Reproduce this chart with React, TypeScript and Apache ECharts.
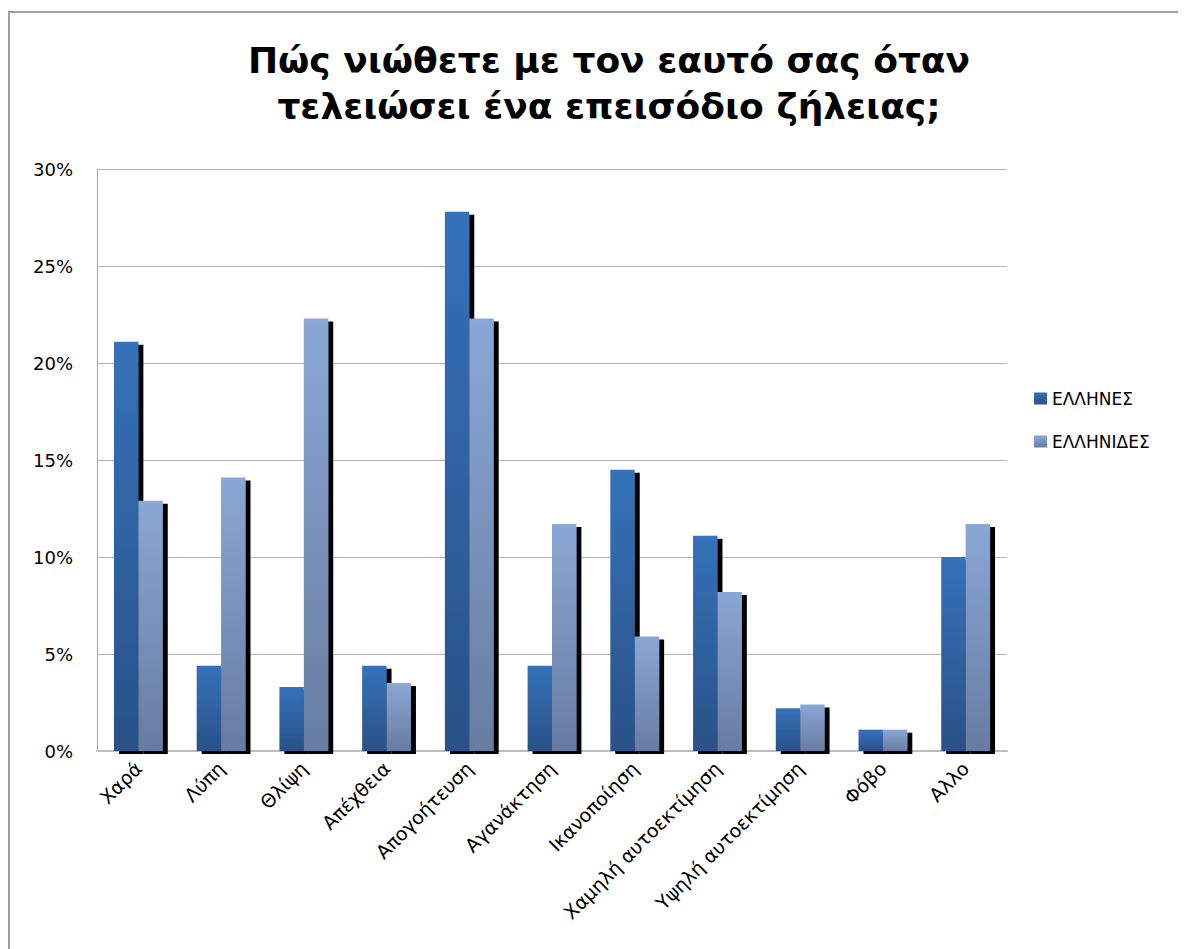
import React, { useEffect, useRef } from "react";
import * as echarts from "echarts";

const titleText = "Πώς νιώθετε με τον εαυτό σας όταν\nτελειώσει ένα επεισόδιο ζήλειας;";
const categories = [
  "Χαρά",
  "Λύπη",
  "Θλίψη",
  "Απέχθεια",
  "Απογοήτευση",
  "Αγανάκτηση",
  "Ικανοποίηση",
  "Χαμηλή αυτοεκτίμηση",
  "Υψηλή αυτοεκτίμηση",
  "Φόβο",
  "Αλλο",
];
const menName = "ΕΛΛΗΝΕΣ";
const womenName = "ΕΛΛΗΝΙΔΕΣ";
const menValues = [21.1, 4.4, 3.3, 4.4, 27.8, 4.4, 14.5, 11.1, 2.2, 1.1, 10.0];
const womenValues = [12.9, 14.1, 22.3, 3.5, 22.3, 11.7, 5.9, 8.2, 2.4, 1.1, 11.7];
const yTicks = { min: 0, max: 30, interval: 5 };

export default function App() {
  const ref = useRef<HTMLDivElement>(null);
  useEffect(() => {
    if (!ref.current) return;
    const chart = echarts.init(ref.current, undefined, { renderer: "svg" });
    const grad = (top: string, bottom: string) =>
      new echarts.graphic.LinearGradient(0, 0, 0, 1, [
        { offset: 0, color: top },
        { offset: 1, color: bottom },
      ]);
    const darkGrad = grad("#3572b9", "#2a5188");
    const lightGrad = grad("#8aa7d5", "#687ca2");
    chart.setOption({
      animation: false,
      backgroundColor: "#ffffff",
      graphic: [
        {
          type: "rect",
          shape: { x: 1, y: 4, width: 1400, height: 1200 },
          style: { fill: "none", stroke: "#a0a0a0", lineWidth: 2 },
          silent: true,
        },
      ],
      title: {
        text: titleText,
        left: 596,
        top: 24,
        textAlign: "center",
        textStyle: {
          fontFamily: "DejaVu Sans",
          fontWeight: "bold",
          fontSize: 36,
          lineHeight: 46,
          color: "#000000",
        },
      },
      legend: {
        orient: "vertical",
        left: 1021,
        top: 377,
        itemWidth: 13,
        itemHeight: 12,
        itemGap: 26,
        icon: "rect",
        textStyle: {
          fontFamily: "DejaVu Sans",
          fontSize: 17,
          color: "#000000",
        },
        data: [menName, womenName],
      },
      grid: {
        left: 89,
        right: 179,
        top: 161,
        bottom: 198,
        containLabel: false,
      },
      xAxis: {
        type: "category",
        data: categories,
        axisLine: { lineStyle: { color: "#bdbdbd", width: 2 } },
        axisTick: { show: false },
        axisLabel: {
          interval: 0,
          rotate: 45,
          margin: 14,
          fontFamily: "DejaVu Sans",
          fontSize: 19,
          color: "#000000",
        },
      },
      yAxis: {
        type: "value",
        min: yTicks.min,
        max: yTicks.max,
        interval: yTicks.interval,
        axisLine: { show: true, lineStyle: { color: "#a8a8a8", width: 1 } },
        axisTick: { show: false },
        splitLine: { lineStyle: { color: "#b4b4b4", width: 1 } },
        axisLabel: {
          formatter: "{value}%",
          margin: 24,
          fontFamily: "DejaVu Sans",
          fontSize: 18,
          color: "#000000",
        },
      },
      series: [
        {
          name: menName,
          type: "bar",
          data: menValues,
          barGap: "0%",
          barCategoryGap: "41%",
          itemStyle: {
            color: darkGrad,
            shadowColor: "#000000",
            shadowBlur: 0,
            shadowOffsetX: 5,
            shadowOffsetY: 3,
          },
        },
        {
          name: womenName,
          type: "bar",
          data: womenValues,
          barGap: "0%",
          barCategoryGap: "41%",
          itemStyle: {
            color: lightGrad,
            shadowColor: "#000000",
            shadowBlur: 0,
            shadowOffsetX: 5,
            shadowOffsetY: 3,
          },
        },
      ],
    });
    return () => chart.dispose();
  }, []);
  return <div ref={ref} style={{ width: 1178, height: 941 }} />;
}
